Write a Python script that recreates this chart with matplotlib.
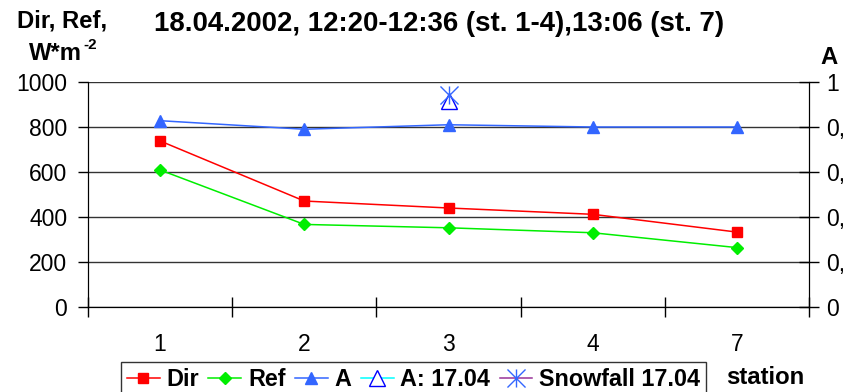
import matplotlib.pyplot as plt
import numpy as np
from matplotlib.path import Path
from matplotlib.ticker import FixedLocator

plt.rcParams['font.family'] = ['Liberation Sans', 'DejaVu Sans']

# data
stations = ['1', '2', '3', '4', '7']
dir_vals = [738, 471, 440, 412, 333]
ref_vals = [609, 367, 352, 330, 264]
a_vals = [0.828, 0.79, 0.81, 0.80, 0.80]
a_1704_station = '3'
a_1704_val = 0.915
snow_station = '3'
snow_val = 0.944

left_ticks = [0, 200, 400, 600, 800, 1000]
right_ticks = [0, 0.2, 0.4, 0.6, 0.8, 1.0]
right_labels = ['0', '0,2', '0,4', '0,6', '0,8', '1']

x = np.arange(len(stations))
fs_tick = 16.5
fs_lab = 17.2
fs_leg = 16.8
fs_title = 19.9

fig = plt.figure(figsize=(8.44, 3.92), dpi=100)
ax = fig.add_axes([88 / 844, 1 - 307 / 392, (809 - 88) / 844, (307 - 82) / 392])
ax2 = ax.twinx()

ax.set_xlim(-0.5, len(stations) - 0.5)
ax.set_ylim(0, 1000)
ax.set_yticks(left_ticks)
ax.tick_params(axis='y', direction='out', length=7, width=1, labelsize=fs_tick, pad=8)
ax.set_xticks(x)
ax.set_xticklabels(stations)
ax.tick_params(axis='x', which='major', length=0, labelsize=fs_tick, pad=18.5)
ax.xaxis.set_minor_locator(FixedLocator(np.arange(-0.5, len(stations), 1.0)))
ax.tick_params(axis='x', which='minor', direction='inout', length=14, width=1)
ax.grid(axis='y', color='#333333', linewidth=1)
ax.spines['top'].set_visible(False)
ax2.spines['top'].set_visible(False)

ax2.set_ylim(0, 1)
ax2.set_yticks(right_ticks)
ax2.set_yticklabels(right_labels)
ax2.tick_params(axis='y', direction='inout', length=14, width=1, labelsize=fs_tick, pad=5.5)

star = Path([(-1, -1), (1, 1), (-1, 1), (1, -1), (0, -1), (0, 1)],
            [Path.MOVETO, Path.LINETO, Path.MOVETO, Path.LINETO, Path.MOVETO, Path.LINETO])

l1, = ax.plot(x, dir_vals, color='#ff0000', lw=1.1, marker='s', ms=7, label='Dir')
l2, = ax.plot(x, ref_vals, color='#00ee00', lw=1.1, marker='D', ms=6, label='Ref')
l3, = ax2.plot(x, a_vals, color='#3366ff', lw=1.1, marker='^', ms=8, label='A')
l4, = ax2.plot([stations.index(a_1704_station)], [a_1704_val], color='#00ffff', lw=1.1,
               marker='^', ms=12, mfc='white', mec='#0000ff', mew=1, label='A: 17.04')
l5, = ax2.plot([stations.index(snow_station)], [snow_val], color='#993399', lw=1.1,
               marker=star, ms=13, mec='#3366ff', mew=1, label='Snowfall 17.04')

leg = fig.legend(handles=[l1, l2, l3, l4, l5], loc='upper left', bbox_to_anchor=(121 / 844, 1 - 362 / 392),
                 ncol=5, frameon=True, fancybox=False, edgecolor='black', handlelength=1.4,
                 handletextpad=0.3, columnspacing=0.4, borderpad=0.25, borderaxespad=0,
                 prop={'weight': 'bold', 'size': fs_leg})
leg.get_frame().set_linewidth(1)

fig.text(439 / 844, 1 - 24 / 392, '18.04.2002, 12:20-12:36 (st. 1-4),13:06 (st. 7)',
         ha='center', va='center', fontsize=fs_title, fontweight='bold')
fig.text(62 / 844, 1 - 21 / 392, 'Dir, Ref,', ha='center', va='center', fontsize=fs_lab, fontweight='bold')
fig.text(82 / 844, 1 - 53 / 392, 'W*m', ha='right', va='center', fontsize=fs_lab, fontweight='bold')
fig.text(83 / 844, 1 - 45 / 392, '-2', ha='left', va='center', fontsize=11, fontweight='bold')
fig.text(829 / 844, 1 - 57 / 392, 'A', ha='center', va='center', fontsize=fs_lab, fontweight='bold')
fig.text(765 / 844, 1 - 377 / 392, 'station', ha='center', va='center', fontsize=fs_lab, fontweight='bold')

fig.savefig('out.png', dpi=100)
